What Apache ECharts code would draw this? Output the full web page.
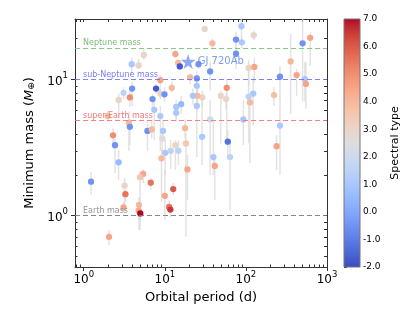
<!DOCTYPE html>
<html><head><meta charset="utf-8">
<script src="https://cdn.jsdelivr.net/npm/echarts@6/dist/echarts.min.js"></script>
<style>html,body{margin:0;padding:0;background:#fff}#c{width:415px;height:312px}</style>
</head><body><div id="c"></div>
<script>
// ---- data ----
const periods = [5.5,3.9,4.75,13.5,14.6,15.3,8.8,20.5,24.8,7.8,3.95,3.1,2.7,3.7,8.8,12.2,9.9,7.05,13.8,15.9,7.4,31,88,125,75.5,89,38.6,75.5,36.2,108,127,356,422,500,620,263,533,549,24.8,58,49,57,29,25.2,22.2,123,108,222,112,24.8,1.97,8.8,13.8,3.6,3.7,2.3,2.43,6.1,6.9,9.5,9.3,17.8,13.5,18.2,10.1,11.8,14.7,9.1,2.69,19.0,5.4,4.95,1.23,3.19,6.7,3.26,12.7,10.0,4.8,3.1,11.3,4.75,11.7,4.98,2.05,36.2,28.8,59.7,39.7,41.3,63.7,93,263,239,26.0];
const masses = [15.2,13.0,12.7,15.4,13.3,12.5,9.9,10.4,10.2,8.6,8.6,8.0,7.1,7.4,7.9,8.7,7.8,7.2,6.3,6.6,6.0,23.6,24.7,21.2,19.7,18.8,18.5,15.5,11.5,12.2,12.4,13.6,10.8,18.5,20.3,10.5,10.1,9.3,9.0,8.7,7.6,7.2,7.4,7.6,7.6,7.9,7.5,7.7,6.8,6.4,5.4,5.4,5.7,4.8,4.5,3.9,3.3,4.2,4.3,4.2,3.7,4.4,3.3,3.4,2.9,3.0,3.0,2.64,2.47,2.19,2.03,1.92,1.78,1.66,1.75,1.44,1.57,1.40,1.20,1.15,1.16,1.09,1.11,1.04,0.70,5.1,3.8,3.5,2.7,2.32,2.7,5.1,4.6,3.24,13.0];
const massLow = [14.0,11.0,12.0,14.5,12.6,11.8,7.6,9.3,6.4,7.9,6.4,7.2,5.2,6.3,7.2,8.0,6.9,5.9,5.2,5.6,3.6,22.4,19.9,19.5,16.8,17.0,16.8,12.0,8.3,9.0,9.5,5.6,7.6,6.9,12.6,7.1,6.9,6.1,8.0,3.4,3.4,6.0,6.3,6.5,6.5,4.6,3.4,6.4,2.44,2.7,4.9,3.0,4.9,3.0,3.3,3.3,2.06,3.0,3.7,3.5,3.0,3.7,2.17,0.70,1.99,2.2,2.36,1.26,1.83,1.30,1.74,0.785,1.42,1.14,1.55,1.26,1.42,0.93,0.785,1.06,1.06,0.93,0.98,0.93,0.61,1.99,2.36,2.79,1.99,1.30,1.10,3.31,1.99,2.17,12.0];
const massHigh = [16.5,14.5,14.2,16.5,14.0,13.5,10.8,11.0,11.6,9.3,9.6,8.8,7.9,8.3,8.6,9.6,8.8,7.9,7.1,7.6,7.0,24.5,27.9,23.0,22.4,20.5,20.0,19.9,13.5,14.0,14.5,21.7,12.0,27.9,22.4,12.6,13.5,13.5,10.0,10.0,8.3,8.0,8.3,8.6,8.6,10.6,12.6,8.8,7.6,7.1,5.9,6.4,6.4,5.8,5.2,4.4,3.7,4.9,5.1,5.0,4.3,5.1,3.6,4.06,3.6,3.6,3.6,3.1,3.04,2.8,2.2,2.1,2.1,1.89,1.89,1.55,1.74,2.17,1.37,1.26,1.30,1.20,1.20,1.10,0.785,7.1,7.1,4.27,5.1,2.79,3.6,7.1,7.2,3.9,14.0];
const spectralTypes = [3,1,3,4.5,4,-1.7,4.5,4,-0.5,-1.7,-0.5,1.5,3,5,3,4,-0.5,-0.5,1,0.5,1,3,1,3,-0.5,1,4,-0.5,-0.5,3,4.5,4,4.5,-0.5,4.5,-0.5,1,4.5,1,5,3,3,3,4,1,1,1.5,3.8,4,1,4,1,1,4,-0.5,5,-0.5,-0.5,4,1,2.5,4,3,3.5,1,1.5,1.5,4,0.5,4.5,4.5,3.5,-0.5,3,5.5,5.5,6,4.5,4,4.5,5.5,4.5,6.5,7,4.5,2,1,-1.2,1,4.5,1.5,1,1,4.5,-0.5];
const starName = 'GJ 720Ab';
const starPeriod = 19.4;
const starMass = 13.6;
const starSpectral = -0.5;
const refNames = ['Neptune mass','sub-Neptune mass','super-Earth mass','Earth mass'];
const refMasses = [17.15, 10, 5, 1];
const xMajor = [1, 10, 100, 1000];
const xMinor = [0.8,0.9,2,3,4,5,6,7,8,9,20,30,40,50,60,70,80,90,200,300,400,500,600,700,800,900];
const yMajor = [1, 10];
const yMinor = [0.5,0.6,0.7,0.8,0.9,2,3,4,5,6,7,8,9,20];
const cbTicks = [-2,-1,0,1,2,3,4,5,6,7];

// ---- styling ----
const refColors = ['#77c477','#7373f5','#f57373','#7a7a7a'];
const refLabelColors = ['#6bb86b','#6c6cf0','#f06c6c','#8c8c8c'];
const coolwarm = ['#3b4cc0','#445acc','#4d68d7','#5775e1','#6282ea','#6c8ef1','#779af7','#82a5fb','#8db0fe','#98b9ff','#a3c2ff','#aec9fd','#b8d0f9','#c2d5f4','#ccd9ee','#d5dbe6','#dddddd','#e5d8d1','#ecd3c5','#f1ccb9','#f5c4ad','#f7bba0','#f7b194','#f7a687','#f49a7b','#f18d6f','#ec7f63','#e57058','#de604d','#d55042','#cb3e38','#c0282f','#b40426'];
const FONT = 'DejaVu Sans';
const axisColor = '#333';
const xMin = 0.78, xMax = 1000, yMin = 0.42, yMax = 27.9;
const GRID = {left: 75, top: 19, width: 252, height: 248};

const supFmt = v => '{b|10}{s|' + Math.round(Math.log10(v)) + '}';
const supRich = {
  b: {fontSize: 12, fontFamily: FONT, color: '#000', lineHeight: 16, verticalAlign: 'bottom'},
  s: {fontSize: 8.5, fontFamily: FONT, color: '#000', lineHeight: 16, verticalAlign: 'top'}
};

const scatterData = periods.map((p, i) => [p, masses[i], spectralTypes[i]]);
const errData = periods.map((p, i) => [p, massLow[i], massHigh[i]]);

const gradStops = coolwarm.slice().reverse().map((c, i, a) => ({offset: i / (a.length - 1), color: c}));

const chart = echarts.init(document.getElementById('c'));
chart.setOption({
  animation: false,
  backgroundColor: '#fff',
  textStyle: {fontFamily: FONT},
  grid: [
    Object.assign({}, GRID),
    {left: 344, top: 19, width: 16, height: 248},
    Object.assign({}, GRID)
  ],
  xAxis: [
    {gridIndex: 0, type: 'log', logBase: 10, min: xMin, max: xMax, position: 'bottom',
     axisLine: {show: true, onZero: false, lineStyle: {color: axisColor, width: 1}},
     axisTick: {show: true, inside: false, length: 4, customValues: xMajor, lineStyle: {color: axisColor}},
     axisLabel: {show: true, customValues: xMajor, formatter: supFmt, rich: supRich, margin: 3},
     splitLine: {show: false}, minorTick: {show: false},
     name: 'Orbital period (d)', nameLocation: 'middle', nameGap: 14,
     nameTextStyle: {fontSize: 13, fontFamily: FONT, color: '#000'}},
    {gridIndex: 0, type: 'log', logBase: 10, min: xMin, max: xMax, position: 'top',
     axisLine: {show: true, onZero: false, lineStyle: {color: axisColor, width: 1}},
     axisTick: {show: true, inside: true, length: 3, customValues: xMajor.concat(xMinor), lineStyle: {color: axisColor}},
     axisLabel: {show: false}, splitLine: {show: false}},
    {gridIndex: 1, type: 'value', min: 0, max: 1, show: false},
    {gridIndex: 2, type: 'log', logBase: 10, min: xMin, max: xMax, position: 'bottom',
     axisLine: {show: false},
     axisTick: {show: true, inside: true, length: 2.5, customValues: xMinor, lineStyle: {color: axisColor}},
     axisLabel: {show: false}, splitLine: {show: false}}
  ],
  yAxis: [
    {gridIndex: 0, type: 'log', logBase: 10, min: yMin, max: yMax, position: 'left',
     axisLine: {show: true, onZero: false, lineStyle: {color: axisColor, width: 1}},
     axisTick: {show: true, inside: false, length: 4, customValues: yMajor, lineStyle: {color: axisColor}},
     axisLabel: {show: true, customValues: yMajor, formatter: supFmt, rich: supRich, margin: 7},
     splitLine: {show: false},
     name: 'Minimum mass ({i|M}{o|⊕})', nameLocation: 'middle', nameGap: 29, nameRotate: 90,
     nameTextStyle: {fontSize: 13, fontFamily: FONT, color: '#000',
       rich: {i: {fontSize: 13, fontStyle: 'italic', fontFamily: FONT, color: '#000'},
              o: {fontSize: 9, fontFamily: FONT, color: '#000', verticalAlign: 'bottom', lineHeight: 14}}}},
    {gridIndex: 0, type: 'log', logBase: 10, min: yMin, max: yMax, position: 'right',
     axisLine: {show: true, onZero: false, lineStyle: {color: axisColor, width: 1}},
     axisTick: {show: true, inside: true, length: 3, customValues: yMajor.concat(yMinor), lineStyle: {color: axisColor}},
     axisLabel: {show: false}, splitLine: {show: false}},
    {gridIndex: 1, type: 'value', min: -2, max: 7, interval: 1, position: 'right',
     axisLine: {show: false},
     axisTick: {show: true, inside: false, length: 3, lineStyle: {color: '#333'}},
     axisLabel: {show: true, fontSize: 9, fontFamily: FONT, color: '#000', margin: 3, formatter: v => v.toFixed(1)},
     splitLine: {show: false},
     name: 'Spectral type', nameLocation: 'middle', nameGap: 30, nameRotate: 90,
     nameTextStyle: {fontSize: 11, fontFamily: FONT, color: '#000'}},
    {gridIndex: 2, type: 'log', logBase: 10, min: yMin, max: yMax, position: 'left',
     axisLine: {show: false},
     axisTick: {show: true, inside: true, length: 2.5, customValues: yMinor, lineStyle: {color: axisColor}},
     axisLabel: {show: false}, splitLine: {show: false}}
  ],
  visualMap: {
    type: 'continuous', show: false, min: -2, max: 7, dimension: 2,
    seriesIndex: [2, 3], inRange: {color: coolwarm}
  },
  series: [
    {type: 'custom', name: 'errors', xAxisIndex: 0, yAxisIndex: 0, z: 1, data: errData, silent: true,
     renderItem: (params, api) => {
       const a = api.coord([api.value(0), api.value(1)]);
       const b = api.coord([api.value(0), api.value(2)]);
       return {type: 'line', shape: {x1: a[0], y1: a[1], x2: b[0], y2: b[1]},
               style: {stroke: '#dadada', lineWidth: 1.5, opacity: 0.75}};
     }},
    {type: 'scatter', name: 'refs', xAxisIndex: 0, yAxisIndex: 0, z: 2, data: [],
     markLine: {
       silent: true, symbol: 'none', animation: false,
       data: refMasses.map((m, i) => ({
         yAxis: m, name: refNames[i],
         lineStyle: {color: refColors[i], type: [5, 3], width: 1.2, opacity: 0.9},
         label: {show: true, position: 'insideStartTop', formatter: '{b}', color: refLabelColors[i],
                 fontSize: 8, fontFamily: FONT, distance: [8, 1]}
       }))
     }},
    {type: 'scatter', name: 'planets', xAxisIndex: 0, yAxisIndex: 0, z: 3,
     symbol: 'circle', symbolSize: 6.3, data: scatterData, itemStyle: {opacity: 1}},
    {type: 'scatter', name: 'star', xAxisIndex: 0, yAxisIndex: 0, z: 4,
     symbol: 'path://M0,-1 L0.2245,-0.309 L0.951,-0.309 L0.363,0.118 L0.588,0.809 L0,0.382 L-0.588,0.809 L-0.363,0.118 L-0.951,-0.309 L-0.2245,-0.309 Z',
     symbolSize: 15,
     data: [{name: starName, value: [starPeriod, starMass, starSpectral]}],
     label: {show: true, position: 'right', distance: 2, formatter: '{b}', color: '#5a86ea', fontSize: 10, fontFamily: FONT}},
    {type: 'custom', name: 'colorbar', xAxisIndex: 2, yAxisIndex: 2, z: 1, silent: true,
     data: [[0, -2, 7]],
     renderItem: (params, api) => {
       const p0 = api.coord([0, 7]);
       const p1 = api.coord([1, -2]);
       return {type: 'rect', shape: {x: p0[0], y: p0[1], width: p1[0] - p0[0], height: p1[1] - p0[1]},
               style: {fill: new echarts.graphic.LinearGradient(0, 0, 0, 1, gradStops), stroke: '#777', lineWidth: 1}};
     }}
  ]
});
</script></body></html>
